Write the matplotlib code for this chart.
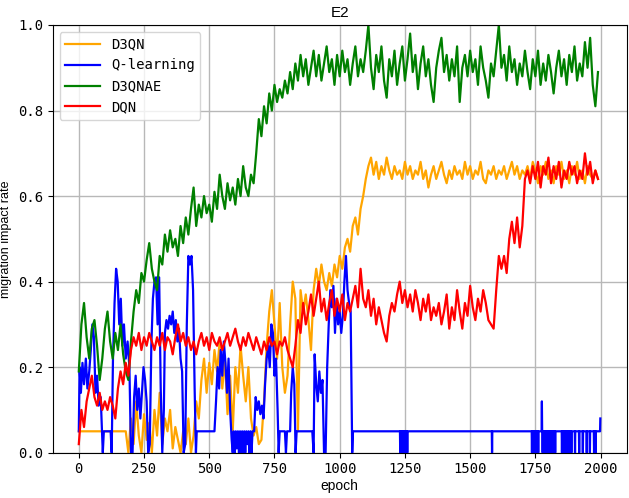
import numpy as np
import matplotlib
matplotlib.use("Agg")
import matplotlib.pyplot as plt

# ===== data (one value every 10 epochs) =====
d3qn = [
    0.05, 0.05, 0.05, 0.05, 0.05, 0.05, 0.05, 0.05, 0.05, 0.05,
    0.05, 0.05, 0.05, 0.05, 0.05, 0.05, 0.05, 0.05, 0.05, 0.00,
    0.08, 0.02, 0.12, 0.04, 0.00, 0.09, 0.03, 0.07, 0.00, 0.10,
    0.04, 0.14, 0.02, 0.08, 0.05, 0.10, 0.01, 0.06, 0.03, 0.00,
    0.05, 0.02, 0.08, 0.00, 0.04, 0.12, 0.08, 0.17, 0.22, 0.14,
    0.21, 0.16, 0.24, 0.19, 0.26, 0.15, 0.22, 0.09, 0.18, 0.05,
    0.20, 0.14, 0.25, 0.18, 0.12, 0.20, 0.08, 0.04, 0.06, 0.02,
    0.03, 0.12, 0.25, 0.33, 0.38, 0.30, 0.22, 0.35, 0.20, 0.14,
    0.18, 0.30, 0.40, 0.36, 0.05, 0.38, 0.33, 0.37, 0.31, 0.24,
    0.38, 0.43, 0.39, 0.44, 0.40, 0.38, 0.42, 0.39, 0.44, 0.41,
    0.46, 0.43, 0.48, 0.50, 0.47, 0.53, 0.55, 0.51, 0.57, 0.60,
    0.64, 0.67, 0.69, 0.65, 0.68, 0.64, 0.67, 0.65, 0.69, 0.66,
    0.64, 0.67, 0.65, 0.66, 0.64, 0.68, 0.65, 0.67, 0.64, 0.66,
    0.65, 0.68, 0.64, 0.66, 0.62, 0.65, 0.67, 0.64, 0.66, 0.68,
    0.65, 0.63, 0.66, 0.64, 0.67, 0.65, 0.66, 0.64, 0.68, 0.65,
    0.67, 0.64, 0.66, 0.65, 0.68, 0.64, 0.63, 0.66, 0.65, 0.67,
    0.64, 0.66, 0.65, 0.67, 0.64, 0.66, 0.68, 0.65, 0.67, 0.64,
    0.66, 0.65, 0.67, 0.64, 0.68, 0.66, 0.63, 0.67, 0.65, 0.68,
    0.64, 0.66, 0.63, 0.67, 0.65, 0.68, 0.64, 0.66, 0.63, 0.67,
    0.65, 0.68, 0.64, 0.66, 0.63, 0.67, 0.65, 0.64, 0.66, 0.64,
]

d3qnae = [
    0.19, 0.30, 0.35, 0.27, 0.22, 0.29, 0.31, 0.25, 0.17, 0.22,
    0.29, 0.33, 0.26, 0.22, 0.28, 0.24, 0.30, 0.23, 0.19, 0.17,
    0.26, 0.33, 0.38, 0.35, 0.42, 0.40, 0.45, 0.49, 0.43, 0.40,
    0.38, 0.46, 0.44, 0.51, 0.47, 0.52, 0.48, 0.50, 0.46, 0.53,
    0.49, 0.55, 0.51, 0.57, 0.62, 0.53, 0.58, 0.55, 0.60, 0.56,
    0.58, 0.54, 0.61, 0.57, 0.65, 0.60, 0.57, 0.63, 0.59, 0.62,
    0.58, 0.64, 0.60, 0.67, 0.62, 0.60, 0.65, 0.63, 0.70, 0.78,
    0.74, 0.81, 0.77, 0.84, 0.80, 0.86, 0.82, 0.85, 0.83, 0.87,
    0.84, 0.89, 0.85, 0.91, 0.87, 0.93, 0.88, 0.92, 0.86, 0.90,
    0.94, 0.88, 0.93, 0.87, 0.91, 0.95, 0.89, 0.92, 0.86, 0.93,
    0.88, 0.94, 0.89, 0.92, 0.86, 0.91, 0.95, 0.88, 0.92, 0.89,
    0.94, 1.00, 0.90, 0.85, 0.93, 0.89, 0.95, 0.87, 0.83, 0.92,
    0.88, 0.94, 0.86, 0.91, 0.95, 0.87, 0.92, 0.98, 0.89, 0.93,
    0.85, 0.91, 0.95, 0.88, 0.92, 0.86, 0.82, 0.90, 0.94, 0.97,
    0.89, 0.93, 0.87, 0.92, 0.88, 0.95, 0.82, 0.90, 0.93, 0.88,
    0.94, 0.89, 0.92, 0.86, 0.95, 0.90, 0.87, 0.83, 0.91, 0.88,
    0.94, 1.00, 0.90, 0.93, 0.87, 0.95, 0.89, 0.92, 0.86, 0.91,
    0.88, 0.94, 0.89, 0.85, 0.92, 0.88, 0.94, 0.86, 0.91, 0.87,
    0.93, 0.89, 0.84, 0.90, 0.94, 0.88, 0.92, 0.86, 0.93, 0.89,
    0.95, 0.87, 0.91, 0.88, 0.96, 0.90, 0.97, 0.86, 0.81, 0.89,
]

dqn = [
    0.02, 0.10, 0.06, 0.12, 0.15, 0.18, 0.13, 0.11, 0.14, 0.10,
    0.12, 0.10, 0.13, 0.11, 0.08, 0.15, 0.19, 0.16, 0.21, 0.18,
    0.24, 0.27, 0.25, 0.28, 0.24, 0.27, 0.25, 0.28, 0.26, 0.24,
    0.27, 0.25, 0.28, 0.24, 0.27, 0.26, 0.23, 0.27, 0.30, 0.26,
    0.28, 0.25, 0.27, 0.24, 0.26, 0.23, 0.26, 0.28, 0.25, 0.27,
    0.24, 0.28, 0.26, 0.25, 0.27, 0.24, 0.26, 0.28, 0.25, 0.27,
    0.29, 0.26, 0.24, 0.27, 0.25, 0.28, 0.26, 0.24, 0.27, 0.25,
    0.23, 0.26, 0.24, 0.27, 0.25, 0.26, 0.23, 0.26, 0.25, 0.27,
    0.24, 0.22, 0.20, 0.25, 0.31, 0.28, 0.35, 0.30, 0.33, 0.37,
    0.32, 0.36, 0.40, 0.33, 0.36, 0.31, 0.35, 0.38, 0.32, 0.36,
    0.33, 0.37, 0.31, 0.35, 0.33, 0.36, 0.39, 0.34, 0.43, 0.36,
    0.34, 0.38, 0.32, 0.36, 0.30, 0.34, 0.31, 0.28, 0.26, 0.32,
    0.35, 0.33, 0.37, 0.40, 0.35, 0.38, 0.34, 0.37, 0.33, 0.38,
    0.35, 0.31, 0.36, 0.33, 0.37, 0.31, 0.34, 0.32, 0.35, 0.30,
    0.33, 0.37, 0.29, 0.34, 0.31, 0.38, 0.33, 0.29, 0.35, 0.32,
    0.39, 0.34, 0.31, 0.36, 0.33, 0.38, 0.35, 0.31, 0.30, 0.29,
    0.38, 0.46, 0.43, 0.46, 0.42, 0.50, 0.54, 0.49, 0.55, 0.48,
    0.53, 0.64, 0.66, 0.63, 0.67, 0.64, 0.68, 0.62, 0.67, 0.65,
    0.69, 0.63, 0.67, 0.64, 0.68, 0.62, 0.66, 0.64, 0.68, 0.65,
    0.67, 0.63, 0.66, 0.64, 0.70, 0.65, 0.68, 0.63, 0.66, 0.64,
]

# Q-learning: noisy first half as (epoch, value) points
qlearn_head = [
    (0, 0.05), (3, 0.20), (8, 0.14), (14, 0.21), (20, 0.16), (27, 0.22),
    (33, 0.15), (40, 0.19), (46, 0.24), (52, 0.30), (58, 0.27), (64, 0.14),
    (70, 0.18), (76, 0.11), (84, 0.13), (92, 0.0), (96, 0.05), (122, 0.05),
    (126, 0.0), (131, 0.22), (137, 0.35), (143, 0.43), (149, 0.40), (155, 0.30),
    (161, 0.36), (167, 0.25), (173, 0.30), (180, 0.22), (187, 0.26), (194, 0.20),
    (200, 0.0), (206, 0.0), (212, 0.13), (218, 0.18), (224, 0.10), (230, 0.15),
    (236, 0.08), (242, 0.14), (248, 0.20), (254, 0.17), (260, 0.12), (266, 0.0),
    (272, 0.02), (278, 0.25), (284, 0.36), (290, 0.40), (296, 0.41), (302, 0.30),
    (308, 0.41), (314, 0.15), (320, 0.0), (326, 0.10), (330, 0.28), (336, 0.31),
    (342, 0.29), (348, 0.32), (354, 0.30), (360, 0.33), (366, 0.28), (372, 0.31),
    (378, 0.26), (384, 0.29), (390, 0.22), (396, 0.19), (402, 0.0), (408, 0.02),
    (414, 0.30), (420, 0.46), (426, 0.44), (432, 0.46), (438, 0.38), (444, 0.15),
    (449, 0.0), (452, 0.05), (520, 0.05), (526, 0.12), (532, 0.20), (538, 0.15),
    (544, 0.24), (550, 0.18), (556, 0.26), (562, 0.21), (568, 0.14), (574, 0.22),
    (580, 0.10), (586, 0.03), (590, 0.0), (594, 0.05), (598, 0.0), (602, 0.05),
    (606, 0.01), (610, 0.05), (614, 0.0), (618, 0.05), (622, 0.0), (626, 0.05),
    (630, 0.0), (634, 0.05), (638, 0.0), (642, 0.05), (646, 0.02), (650, 0.05),
    (654, 0.0), (658, 0.05), (662, 0.0), (666, 0.05), (672, 0.05), (678, 0.13),
    (684, 0.10), (690, 0.12), (696, 0.09), (702, 0.11), (708, 0.08), (714, 0.16),
    (720, 0.22), (726, 0.25), (732, 0.20), (738, 0.30), (744, 0.28), (750, 0.18),
    (756, 0.22), (762, 0.10), (766, 0.0), (770, 0.05), (790, 0.05), (794, 0.0),
    (798, 0.05), (810, 0.05), (814, 0.14), (820, 0.20), (826, 0.16), (831, 0.0),
    (835, 0.05), (895, 0.05), (900, 0.0), (904, 0.23), (910, 0.16), (916, 0.12),
    (922, 0.19), (928, 0.14), (934, 0.17), (940, 0.0), (946, 0.0), (952, 0.20),
    (958, 0.30), (964, 0.38), (970, 0.34), (976, 0.39), (982, 0.28), (988, 0.36),
    (994, 0.30), (1000, 0.33), (1006, 0.28), (1012, 0.32), (1018, 0.40),
    (1024, 0.46), (1030, 0.38), (1036, 0.35), (1042, 0.33), (1048, 0.0),
]
# second half: stays at 0.05, single-epoch excursions listed here
qlearn_base = 0.05
qlearn_events = [
    (1232, 0.0), (1235, 0.0), (1238, 0.0), (1241, 0.0), (1244, 0.0),
    (1247, 0.0), (1250, 0.0), (1253, 0.0), (1256, 0.0), (1259, 0.0),
    (1584, 0.0),
    (1737, 0.0), (1740, 0.0), (1743, 0.0), (1746, 0.0), (1749, 0.0),
    (1752, 0.0), (1755, 0.0), (1758, 0.0), (1761, 0.0),
    (1775, 0.12), (1778, 0.0), (1781, 0.0), (1784, 0.0), (1787, 0.0),
    (1790, 0.0), (1793, 0.0), (1796, 0.0), (1799, 0.0), (1802, 0.0),
    (1805, 0.0), (1808, 0.0), (1811, 0.0), (1814, 0.0), (1817, 0.0),
    (1820, 0.0), (1823, 0.0), (1826, 0.0),
    (1852, 0.0), (1855, 0.0), (1858, 0.0), (1861, 0.0), (1864, 0.0),
    (1867, 0.0), (1870, 0.0), (1873, 0.0), (1876, 0.0), (1879, 0.0),
    (1882, 0.0), (1885, 0.0), (1888, 0.0),
    (1902, 0.0), (1918, 0.0), (1932, 0.0), (1947, 0.0), (1959, 0.0),
    (1975, 0.0), (1981, 0.0),
]
qlearn_end = (1999, 0.08)

# build Q-learning polyline
ql_x = [p[0] for p in qlearn_head] + [1051]
ql_y = [p[1] for p in qlearn_head] + [qlearn_base]
for ep, val in qlearn_events:
    ql_x += [ep - 1, ep, ep + 1]
    ql_y += [qlearn_base, val, qlearn_base]
ql_x += [qlearn_end[0] - 1, qlearn_end[0]]
ql_y += [qlearn_base, qlearn_end[1]]

# ===== plot =====
plt.rcParams['font.family'] = ['DejaVu Sans Mono']
fig = plt.figure(figsize=(6.29, 4.98), dpi=100)
ax = fig.add_axes([0.0838, 0.091, 0.9125, 0.8588])

lw = 1.6
ax.plot(np.arange(len(d3qn)) * 10, d3qn, color='orange', lw=lw, label='D3QN')
ax.plot(ql_x, ql_y, color='blue', lw=lw, label='Q-learning')
ax.plot(np.arange(len(d3qnae)) * 10, d3qnae, color='green', lw=lw, label='D3QNAE')
ax.plot(np.arange(len(dqn)) * 10, dqn, color='red', lw=lw, label='DQN')

ax.set_xlim(-100, 2100)
ax.set_ylim(0, 1.0)
ax.set_xticks(np.arange(0, 2001, 250))
ax.set_yticks(np.arange(0, 1.01, 0.2))
ax.tick_params(labelsize=10)
ax.grid(True, color='#b8b8b8', lw=1.0)
ax.set_axisbelow(True)

ax.set_title('E2', fontsize=11, fontfamily='Liberation Sans')
ax.set_xlabel('epoch', fontsize=10, fontfamily='Liberation Sans', labelpad=2)
ax.set_ylabel('migration impact rate', fontsize=9, fontfamily='Liberation Sans')

ax.legend(loc='upper left', fontsize=10, handlelength=2.5)

fig.savefig('out.png', dpi=100)
